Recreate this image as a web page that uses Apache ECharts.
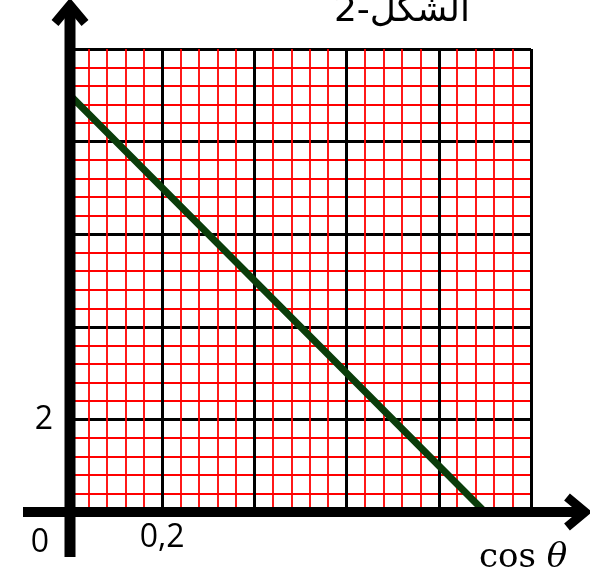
<!DOCTYPE html>
<html><head><meta charset="utf-8">
<script src="https://cdn.jsdelivr.net/npm/echarts@6/dist/echarts.min.js"></script>
<style>html,body{margin:0;padding:0;background:#fff}#c{width:590px;height:577px}</style>
</head><body><div id="c"></div>
<script>
// Data
const cosTheta = [0, 0.9];
const yValues = [9, 0];
const xTickLabels = [[0.2, '0,2']];
const yTickLabels = [[2, '2']];
const xRange = [0, 1];
const yRange = [0, 10];
const xMajor = 0.2;
const yMajor = 2;
const titleText = '2-الشكل';
const xName = 'cos';
const xSymbol = 'θ';
const originLabel = '0';

function pick(list, v) {
  for (const [k, t] of list) if (Math.abs(k - v) < 1e-9) return t;
  return '';
}

const chart = echarts.init(document.getElementById('c'), null, {renderer: 'canvas'});
const labelFont = {fontSize: 32, color: '#000', fontFamily: 'Open Sans'};
const option = {
  animation: false,
  grid: {left: 70, top: 49, right: 59, bottom: 65, containLabel: false},
  xAxis: {
    type: 'value', min: xRange[0], max: xRange[1], interval: xMajor,
    axisLine: {show: false}, axisTick: {show: false},
    axisLabel: Object.assign({formatter: v => pick(xTickLabels, v), margin: 10}, labelFont),
    splitLine: {show: true, showMinLine: true, showMaxLine: true, lineStyle: {color: '#000', width: 3}},
    minorTick: {show: false, splitNumber: 5},
    minorSplitLine: {show: true, lineStyle: {color: '#ff0000', width: 1.8}}
  },
  yAxis: {
    type: 'value', min: yRange[0], max: yRange[1], interval: yMajor,
    axisLine: {show: false}, axisTick: {show: false},
    axisLabel: Object.assign({formatter: v => pick(yTickLabels, v), margin: 17, padding: [0, 0, 18, 0]}, labelFont),
    splitLine: {show: true, showMinLine: true, showMaxLine: true, lineStyle: {color: '#000', width: 3}},
    minorTick: {show: false, splitNumber: 5},
    minorSplitLine: {show: true, lineStyle: {color: '#ff0000', width: 1.8}}
  },
  series: [{
    type: 'line',
    data: cosTheta.map((x, i) => [x, yValues[i]]),
    symbol: 'none',
    lineStyle: {color: '#0a3d0a', width: 7, cap: 'round'},
    z: 5
  }]
};
chart.setOption(option);

const o = chart.convertToPixel({gridIndex: 0}, [xRange[0], yRange[0]]);
const ox = o[0], oy = o[1];
const W = 590;
chart.setOption({
  graphic: [
    {type: 'line', z: 100, shape: {x1: ox, y1: oy + 45, x2: ox, y2: 6}, style: {stroke: '#000', lineWidth: 11}},
    {type: 'polyline', z: 100, shape: {points: [[ox - 15, 23], [ox, 5], [ox + 15, 23]]}, style: {stroke: '#000', lineWidth: 9, lineJoin: 'miter', fill: null}},
    {type: 'line', z: 100, shape: {x1: 23, y1: oy, x2: W - 8, y2: oy}, style: {stroke: '#000', lineWidth: 10}},
    {type: 'polyline', z: 100, shape: {points: [[W - 23, oy - 15], [W - 5, oy], [W - 23, oy + 15]]}, style: {stroke: '#000', lineWidth: 9, lineJoin: 'miter', fill: null}},
    {type: 'text', z: 100, style: {text: originLabel, x: 40, y: oy + 31, align: 'center', verticalAlign: 'middle', fontSize: 32, fontFamily: 'Open Sans', fill: '#000'}},
    {type: 'text', z: 100, style: {
      text: '{a|' + xName + ' }{b|' + xSymbol + '}', x: 523, y: oy + 46, align: 'center', verticalAlign: 'middle',
      rich: {
        a: {fontSize: 34, fontFamily: 'DejaVu Serif', fill: '#000'},
        b: {fontSize: 34, fontFamily: 'DejaVu Serif', fontStyle: 'italic', fill: '#000'}
      }}},
    {type: 'text', z: 100, style: {text: titleText, x: 470, y: 30, align: 'right', verticalAlign: 'bottom', fontSize: 36, fontFamily: 'DejaVu Sans', fill: '#000'}}
  ]
});
</script></body></html>
